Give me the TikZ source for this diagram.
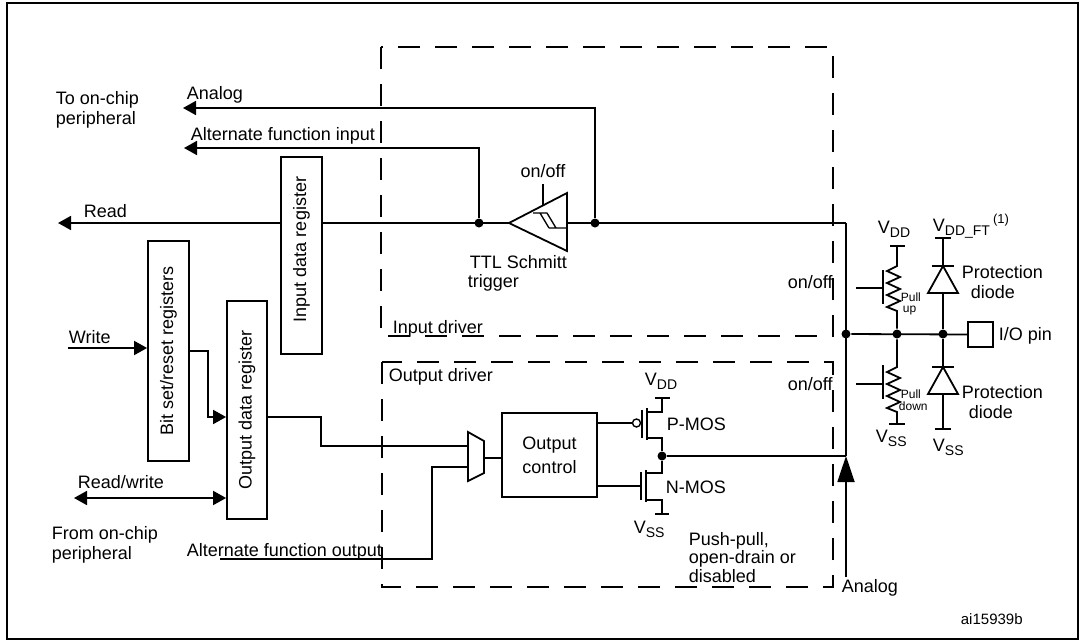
\documentclass[tikz,border=0pt]{standalone}
\usepackage{fontspec}
\setmainfont{Liberation Sans}
\usepackage{tikz}
\usetikzlibrary{arrows.meta,positioning}
\newcommand\vsub[1]{\raisebox{-4pt}{\fontsize{14}{14}\selectfont #1}}

\begin{document}
\begin{tikzpicture}[x=1pt,y=-1pt,>={Triangle[length=13pt,width=14pt]},line width=1.8pt,
	font=\fontsize{18}{20}\selectfont,
	txt/.style={inner sep=0pt,anchor=base west},
	small/.style={txt,font=\fontsize{12}{12}\selectfont},
	blk/.style={draw,inner sep=0pt},
	dot/.style={circle,fill,inner sep=0pt,minimum size=9pt},
	drv/.style={dash pattern=on 22pt off 15pt}]
			\useasboundingbox (0,0) rectangle (1085,643);
			\draw[line width=2.4pt] (7,3) rectangle (1078,639);
			% driver boxes
			\draw[drv] (381,47) rectangle (833,336);
			\draw[drv] (382,362) rectangle (833,587);
			\node[txt] (indrv) at (392,333) {Input driver};
			\node[txt] (outdrv) at (388,381) {Output driver};
			% registers
			\node[blk,minimum width=41pt,minimum height=197pt] (idr) at (301.5,255.5) {\rotatebox{90}{\hspace{12pt}Input data register}};
			\node[blk,minimum width=41pt,minimum height=220pt] (bsr) at (168.5,351) {\rotatebox{90}{Bit set/reset registers}};
			\node[blk,minimum width=40pt,minimum height=218pt] (odr) at (247,410) {\rotatebox{90}{Output data register}};
			\node[blk,minimum width=95pt,minimum height=84pt,align=center] (oc) at (549.5,455) {Output\\[4pt]control};
			\node[blk,minimum size=25pt] (pin) at (980.5,334.5) {};
			\node[txt] (pinlbl) at (998,340) {I/O pin};
			% junctions
			\node[dot] (jai) at (479,223) {};
			\node[dot] (jan) at (595,223) {};
			\node[dot] (jbus) at (846,334) {};
			\node[dot] (jpu) at (897,334) {};
			\node[dot] (jdi) at (943,334) {};
			\node[dot] (jmos) at (662,456) {};
			\coordinate (rdEnd) at (58,223);
			\coordinate (anEnd) at (183,108);
			\coordinate (aiEnd) at (184,148);
			\coordinate (busTop) at (846,223);
			\coordinate (busOut) at (846,456);
			\coordinate (anIn) at (846,577);
			\coordinate (wrIn) at (68,348);
			\coordinate (rwEnd) at (74,498);
			\coordinate (afo) at (220,559);
			% schmitt trigger
			\coordinate (stTip) at (509,223);
			\coordinate (stBack) at (567,223);
			\draw (stTip) -- (567,193) -- (567,251) -- cycle;
			\draw[line width=1.3pt] (533,213) -- (547,213) (540,213) -- (549,228) (547,213) -- (556,228) (549,228) -- (566,228);
			\draw (543,184) -- (543,205);
			\node[txt,anchor=base] (stoo) at (543,177) {on/off};
			\node[txt] (st1) at (469,268) {TTL Schmitt};
			\node[txt] (st2) at (467,287) {trigger};
			% input path
			\draw (busTop) -- (stBack);
			\draw (stTip) -- (idr.east |- stTip);
			\draw[->] (idr.west |- rdEnd) -- (rdEnd);
			\draw[->] (jai) |- (aiEnd);
			\draw[->] (jan) |- (anEnd);
			\node[txt] (rdlbl) at (83,217) {Read};
			\node[txt] (ailbl) at (190,140) {Alternate function input};
			\node[txt] (anlbl) at (186,99) {Analog};
			\node[txt] (toc1) at (55,104) {To on-chip};
			\node[txt] (toc2) at (55,124) {peripheral};
			% output path
			\draw[->] (wrIn) -- (bsr.west |- wrIn);
			\draw[->] (bsr.east) -- ++(18,0) |- ([yshift=-7pt]odr.west);
			\draw[<->] (rwEnd) -- (odr.west |- rwEnd);
			\coordinate (muxA) at (468,446);
			\coordinate (muxB) at (468,467);
			\coordinate (muxO) at (484,458);
			\draw (468,432) -- (484,441) -- (484,473) -- (468,481) -- cycle;
			\draw ([yshift=-7pt]odr.east) -- ++(53,0) |- (muxA);
			\draw (afo) -| ([xshift=-36pt]muxB) -- (muxB);
			\draw (muxO) -- (oc.west |- muxO);
			\node[txt] (wrlbl) at (68,343) {Write};
			\node[txt] (rwlbl) at (77,488) {Read/write};
			\node[txt] (fr1) at (51,539) {From on-chip};
			\node[txt] (fr2) at (51,559) {peripheral};
			\node[txt] (afolbl) at (186,556) {Alternate function output};
			% P-MOS / N-MOS
			\node[circle,draw,inner sep=0pt,minimum size=8pt,line width=1.4pt] (bub) at (636.5,423) {};
			\draw (oc.east |- bub) -- (bub.west);
			\draw (642,410) -- (642,438);
			\draw (647,408) -- (647,440);
			\draw (647,412) -- (662,412) -- (662,398);
			\draw (655,398) -- (670,398);
			\draw (647,438) -- (662,438) -- (jmos);
			\coordinate (ng) at (641,486);
			\draw (oc.east |- ng) -- (ng);
			\draw (641,472) -- (641,500);
			\draw (646,470) -- (646,502);
			\draw (jmos) -- (662,473) -- (646,473);
			\draw (646,500) -- (662,500) -- (662,514);
			\draw (655,514) -- (669,514);
			\node[txt] (vdd1) at (644,385) {V\vsub{DD}};
			\node[txt] (pmos) at (666,430) {P-MOS};
			\node[txt] (nmos) at (665,493) {N-MOS};
			\node[txt] (vss1) at (633,533) {V\vsub{SS}};
			\node[txt] (pp1) at (688,545) {Push-pull,};
			\node[txt] (pp2) at (688,563) {open-drain or};
			\node[txt] (pp3) at (688,582) {disabled};
			% bus
			\draw (busTop) -- (busOut);
			\draw (jmos) -- (busOut);
			\draw[-{Triangle[length=26pt,width=17pt]}] (anIn) -- (busOut);
			\draw (jbus) -- (pin.west);
			\node[txt] (an2lbl) at (841,592) {Analog};
			\node[txt] (oo1) at (787,288) {on/off};
			\node[txt] (oo2) at (787,390) {on/off};
			% pull up / pull down
			\draw (856,288) -- (882,288);
			\draw (883,270) -- (883,304);
			\draw (890,246) -- (905,246);
			\draw (897,246) -- (897,266) -- ++(-10,5) -- ++(13,6) -- ++(-13,6) -- ++(13,6) -- ++(-13,6) -- ++(13,6) -- ++(-13,6) -- ++(10,4) -- (jpu);
			\draw (856,384) -- (882,384);
			\draw (883,365) -- (883,399);
			\draw (jpu) -- (897,367) -- ++(-10,5) -- ++(13,6) -- ++(-13,6) -- ++(13,6) -- ++(-13,6) -- ++(13,6) -- ++(-13,6) -- ++(10,4) -- (897,424);
			\draw (889,424) -- (905,424);
			\node[small] (pu1) at (900,301) {Pull};
			\node[small] (pu2) at (902,312) {up};
			\node[small] (pd1) at (900,398) {Pull};
			\node[small] (pd2) at (898,410) {down};
			\node[txt] (vdd2) at (877,233) {V\vsub{DD}};
			\node[txt] (vss2) at (875,442) {V\vsub{SS}};
			% protection diodes
			\draw (935,238) -- (951,238);
			\draw (943,238) -- (jdi);
			\draw (932,266) -- (954,266);
			\draw[fill=white] (943,266) -- (928,293) -- (958,293) -- cycle;
			\draw (jdi) -- (943,429);
			\draw (932,367) -- (954,367);
			\draw[fill=white] (943,367) -- (928,394) -- (958,394) -- cycle;
			\draw (935,429) -- (951,429);
			\node[txt] (vft) at (932,231) {V\vsub{DD\_FT}\,\raisebox{8pt}{\fontsize{13}{13}\selectfont (1)}};
			\node[txt] (vss3) at (932,451) {V\vsub{SS}};
			\node[txt] (pr1) at (961,278) {Protection};
			\node[txt] (pr2) at (970,298) {diode};
			\node[txt] (pr3) at (961,398) {Protection};
			\node[txt] (pr4) at (968,418) {diode};
			\node[txt,font=\fontsize{15}{17}\selectfont] (ref) at (960,624) {ai15939b};
		\end{tikzpicture}
\end{document}
